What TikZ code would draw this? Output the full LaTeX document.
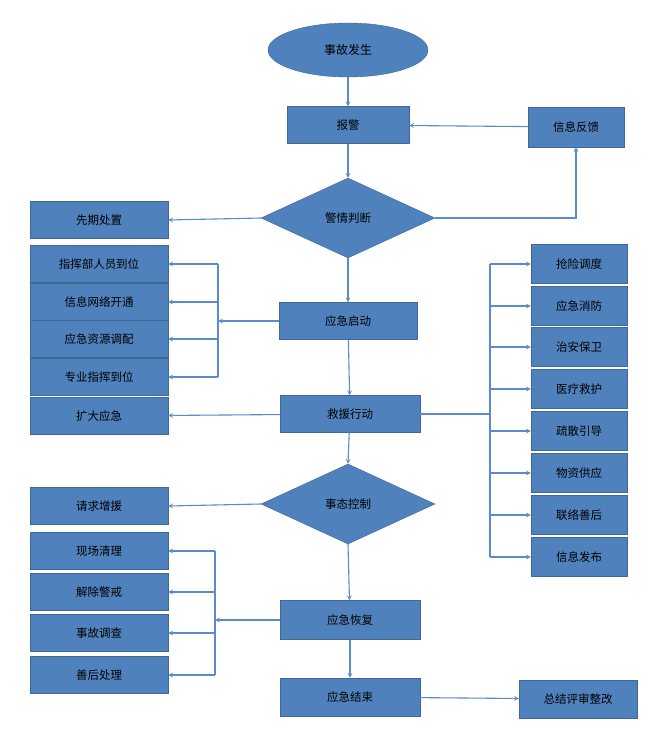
\documentclass[tikz,border=0pt]{standalone}
\usepackage{fontspec}
\setmainfont{Noto Sans CJK SC}
\usetikzlibrary{arrows,shapes.geometric,positioning,calc}
\definecolor{boxblue}{HTML}{4F81BD}
\definecolor{lineblue}{HTML}{5B8BC9}
\begin{document}
\begin{tikzpicture}[x=1pt,y=-1pt,
 stage/.style={rectangle,fill=boxblue,draw=boxblue!80!black,line width=0.4pt,minimum height=37pt,inner sep=0pt,font=\fontsize{11.5}{13}\selectfont},
 side/.style={stage,minimum width=138pt},
 duty/.style={stage,minimum width=96pt,minimum height=39pt},
 judge/.style={diamond,fill=boxblue,draw=boxblue!80!black,minimum width=174pt,minimum height=80pt,inner sep=0pt,font=\fontsize{11.5}{13}\selectfont},
 edge/.style={draw=lineblue,line width=1.1pt,->,>=stealth},
 bar/.style={draw=lineblue,line width=1.1pt}]
\useasboundingbox (0,0) rectangle (660,742);
\node(fs)[ellipse,fill=boxblue,draw=boxblue!80!black,minimum width=160pt,minimum height=54pt,font=\fontsize{12}{14}\selectfont] at (348,50){事故发生};
\node(bj)[stage,minimum width=122pt] at (348,125){报警};
\node(fk)[duty,minimum height=40pt] at (576,127){信息反馈};
\node(pd)[judge] at (348,218){警情判断};
\node(xq)[side] at (99,220){先期处置};
\node(l1)[side] at (99,264){指挥部人员到位};
\node(l2)[side] at (99,302){信息网络开通};
\node(l3)[side] at (99,339){应急资源调配};
\node(l4)[side] at (99,377){专业指挥到位};
\node(kd)[side] at (99,416){扩大应急};
\node(qd)[stage,minimum width=138pt] at (348,321){应急启动};
\node(jy)[stage,minimum width=140pt] at (350,414){救援行动};
\node(r1)[duty] at (579,264){抢险调度};
\node(r2)[duty] at (579,306){应急消防};
\node(r3)[duty] at (579,347){治安保卫};
\node(r4)[duty] at (579,389){医疗救护};
\node(r5)[duty] at (579,431){疏散引导};
\node(r6)[duty] at (579,473){物资供应};
\node(r7)[duty] at (579,515){联络善后};
\node(r8)[duty] at (579,557){信息发布};
\node(tk)[judge] at (348,504){事态控制};
\node(zy)[side] at (99,506){请求增援};
\node(m1)[side] at (99,551){现场清理};
\node(m2)[side] at (99,592){解除警戒};
\node(m3)[side] at (99,633){事故调查};
\node(m4)[side] at (99,675){善后处理};
\node(hf)[stage,minimum width=140pt,minimum height=39pt] at (350,620){应急恢复};
\node(js)[stage,minimum width=140pt,minimum height=38pt] at (350,697){应急结束};
\node(zj)[stage,minimum width=118pt,minimum height=38pt] at (578,699){总结评审整改};
% brackets
\coordinate(lb) at (218,321);
\coordinate(lt) at (218,264);
\coordinate(lbot) at (218,377);
\coordinate(rb) at (490,414);
\coordinate(rt) at (490,264);
\coordinate(rbot) at (490,557);
\coordinate(mb) at (215,620);
\coordinate(mt) at (215,551);
\coordinate(mbot) at (215,675);
\draw [edge] (fs) to (bj);
\draw [edge] (bj) to (pd);
\draw [edge] (pd.east) -| (fk.south);
\draw [edge] (fk) to (bj);
\draw [edge] (pd.west) to (xq.east);
\draw [edge] (pd.south) to (qd);
\draw [edge] (qd) to (lb);
\draw [bar] (lt) to (lbot);
\foreach \b in {l1,l2,l3,l4} \draw [edge] (lt |- \b.east) to (\b.east);
\draw [edge] (qd) to (jy);
\draw [edge] (jy) to (kd);
\draw [bar] (jy.east) to (rb);
\draw [bar] (rt) to (rbot);
\foreach \b in {r1,r2,r3,r4,r5,r6,r7,r8} \draw [edge] (rt |- \b.west) to (\b.west);
\draw [edge] (jy) to (tk.north);
\draw [edge] (tk.west) to (zy.east);
\draw [edge] (tk.south) to (hf);
\draw [edge] (hf) to (mb);
\draw [bar] (mt) to (mbot);
\foreach \b in {m1,m2,m3,m4} \draw [edge] (mt |- \b.east) to (\b.east);
\draw [edge] (hf) to (js);
\draw [edge] (js) to (zj);
\end{tikzpicture}
\end{document}
